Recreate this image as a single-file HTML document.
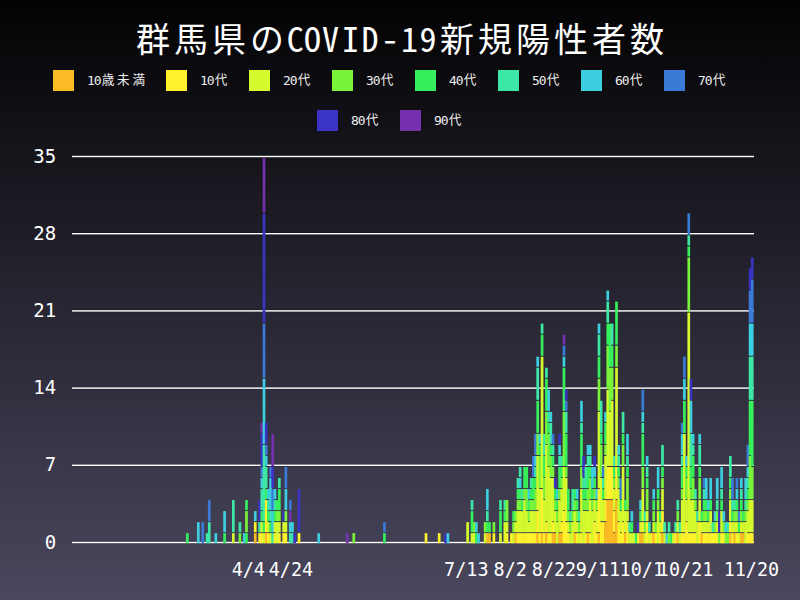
<!DOCTYPE html>
<html><head><meta charset="utf-8"><title>群馬県のCOVID-19新規陽性者数</title><style>
html,body{margin:0;padding:0;width:800px;height:600px;overflow:hidden;}
body{background:linear-gradient(to bottom,#030304 0%,#4a475e 100%);}
svg{display:block;}
.t{font-family:"Noto Sans Mono CJK JP","Noto Sans CJK JP","DejaVu Sans Mono",monospace;}
.m{font-family:"DejaVu Sans Mono","Liberation Mono",monospace;font-size:13px;}
.c{font-family:"Noto Sans CJK JP","WenQuanYi Zen Hei",sans-serif;font-size:12.6px;}
.n{font-family:"DejaVu Sans Mono","Liberation Mono",monospace;}
</style></head><body>
<svg width="800" height="600" viewBox="0 0 800 600">
<text class="t" x="153.0 191.0 229.0 267.0 295.2 312.5 330.5 350.5 370.0 390.0 409.5 428.0 457.0 495.0 533.0 571.0 609.0 647.0" y="51.5" font-size="34" fill="#ffffff" text-anchor="middle">群馬県のCOVID-19新規陽性者数</text>
<rect x="53" y="70" width="21" height="21" fill="#fbbb24"/><text y="85" fill="#eeeeee"><tspan x="87.00" y="85" class="m">1</tspan><tspan x="93.75" y="85" class="m">0</tspan><tspan x="101.80" y="84.2" class="c">歳</tspan><tspan x="117.10" y="84.2" class="c">未</tspan><tspan x="132.40" y="84.2" class="c">満</tspan></text>
<rect x="166" y="70" width="21" height="21" fill="#fff22c"/><text y="85" fill="#eeeeee"><tspan x="200.00" y="85" class="m">1</tspan><tspan x="206.75" y="85" class="m">0</tspan><tspan x="214.80" y="84.2" class="c">代</tspan></text>
<rect x="249" y="70" width="21" height="21" fill="#d5fa2d"/><text y="85" fill="#eeeeee"><tspan x="283.00" y="85" class="m">2</tspan><tspan x="289.75" y="85" class="m">0</tspan><tspan x="297.80" y="84.2" class="c">代</tspan></text>
<rect x="332" y="70" width="21" height="21" fill="#78f53a"/><text y="85" fill="#eeeeee"><tspan x="366.00" y="85" class="m">3</tspan><tspan x="372.75" y="85" class="m">0</tspan><tspan x="380.80" y="84.2" class="c">代</tspan></text>
<rect x="415" y="70" width="21" height="21" fill="#36ef5c"/><text y="85" fill="#eeeeee"><tspan x="449.00" y="85" class="m">4</tspan><tspan x="455.75" y="85" class="m">0</tspan><tspan x="463.80" y="84.2" class="c">代</tspan></text>
<rect x="498" y="70" width="21" height="21" fill="#3de8a6"/><text y="85" fill="#eeeeee"><tspan x="532.00" y="85" class="m">5</tspan><tspan x="538.75" y="85" class="m">0</tspan><tspan x="546.80" y="84.2" class="c">代</tspan></text>
<rect x="581" y="70" width="21" height="21" fill="#3bcfdf"/><text y="85" fill="#eeeeee"><tspan x="615.00" y="85" class="m">6</tspan><tspan x="621.75" y="85" class="m">0</tspan><tspan x="629.80" y="84.2" class="c">代</tspan></text>
<rect x="664" y="70" width="21" height="21" fill="#3b7bd8"/><text y="85" fill="#eeeeee"><tspan x="698.00" y="85" class="m">7</tspan><tspan x="704.75" y="85" class="m">0</tspan><tspan x="712.80" y="84.2" class="c">代</tspan></text>
<rect x="317" y="110" width="21" height="21" fill="#3b33c5"/><text y="125" fill="#eeeeee"><tspan x="351.00" y="125" class="m">8</tspan><tspan x="357.75" y="125" class="m">0</tspan><tspan x="365.80" y="124.2" class="c">代</tspan></text>
<rect x="400" y="110" width="21" height="21" fill="#7530ae"/><text y="125" fill="#eeeeee"><tspan x="434.00" y="125" class="m">9</tspan><tspan x="440.75" y="125" class="m">0</tspan><tspan x="448.80" y="124.2" class="c">代</tspan></text>
<rect x="71" y="540.80" width="683" height="1" fill="#000" fill-opacity="0.18"/><rect x="71" y="543.20" width="683" height="1" fill="#000" fill-opacity="0.12"/><rect x="72" y="541.80" width="682" height="1.4" fill="#ffffff"/><text class="n" x="56.2" y="548.6" font-size="19" fill="#ffffff" text-anchor="end">0</text>
<rect x="71" y="463.60" width="683" height="1" fill="#000" fill-opacity="0.18"/><rect x="71" y="466.00" width="683" height="1" fill="#000" fill-opacity="0.12"/><rect x="72" y="464.60" width="682" height="1.4" fill="#ffffff"/><text class="n" x="56.2" y="471.4" font-size="19" fill="#ffffff" text-anchor="end">7</text>
<rect x="71" y="386.40" width="683" height="1" fill="#000" fill-opacity="0.18"/><rect x="71" y="388.80" width="683" height="1" fill="#000" fill-opacity="0.12"/><rect x="72" y="387.40" width="682" height="1.4" fill="#ffffff"/><text class="n" x="56.2" y="394.2" font-size="19" fill="#ffffff" text-anchor="end">14</text>
<rect x="71" y="309.20" width="683" height="1" fill="#000" fill-opacity="0.18"/><rect x="71" y="311.60" width="683" height="1" fill="#000" fill-opacity="0.12"/><rect x="72" y="310.20" width="682" height="1.4" fill="#ffffff"/><text class="n" x="56.2" y="317.0" font-size="19" fill="#ffffff" text-anchor="end">21</text>
<rect x="71" y="232.00" width="683" height="1" fill="#000" fill-opacity="0.18"/><rect x="71" y="234.40" width="683" height="1" fill="#000" fill-opacity="0.12"/><rect x="72" y="233.00" width="682" height="1.4" fill="#ffffff"/><text class="n" x="56.2" y="239.8" font-size="19" fill="#ffffff" text-anchor="end">28</text>
<rect x="71" y="154.80" width="683" height="1" fill="#000" fill-opacity="0.18"/><rect x="71" y="157.20" width="683" height="1" fill="#000" fill-opacity="0.12"/><rect x="72" y="155.80" width="682" height="1.4" fill="#ffffff"/><text class="n" x="56.2" y="162.6" font-size="19" fill="#ffffff" text-anchor="end">35</text>
<g fill-opacity="1.0"><rect x="186.02" y="533.17" width="2.69" height="10.03" fill="#36ef5c"/><rect x="196.97" y="522.14" width="2.69" height="21.06" fill="#3bcfdf"/><rect x="201.35" y="522.14" width="2.69" height="21.06" fill="#3b7bd8"/><rect x="205.73" y="533.17" width="2.69" height="10.03" fill="#3de8a6"/><rect x="207.92" y="522.14" width="2.69" height="21.06" fill="#3de8a6"/><rect x="207.92" y="500.09" width="2.69" height="21.06" fill="#3b7bd8"/><rect x="214.49" y="533.17" width="2.69" height="10.03" fill="#3bcfdf"/><rect x="223.25" y="533.17" width="2.69" height="10.03" fill="#36ef5c"/><rect x="223.25" y="511.11" width="2.69" height="21.06" fill="#3bcfdf"/><rect x="232.00" y="533.17" width="2.69" height="10.03" fill="#d5fa2d"/><rect x="232.00" y="500.09" width="2.69" height="32.09" fill="#3de8a6"/><rect x="238.57" y="533.17" width="2.69" height="10.03" fill="#78f53a"/><rect x="238.57" y="522.14" width="2.69" height="10.03" fill="#3de8a6"/><rect x="242.95" y="533.17" width="2.69" height="10.03" fill="#3bcfdf"/><rect x="245.14" y="533.17" width="2.69" height="10.03" fill="#36ef5c"/><rect x="245.14" y="511.11" width="2.69" height="21.06" fill="#78f53a"/><rect x="245.14" y="500.09" width="2.69" height="10.03" fill="#36ef5c"/><rect x="253.90" y="533.17" width="2.69" height="10.03" fill="#fbbb24"/><rect x="253.90" y="522.14" width="2.69" height="10.03" fill="#fff22c"/><rect x="253.90" y="511.11" width="2.69" height="10.03" fill="#3bcfdf"/><rect x="258.28" y="533.17" width="2.69" height="10.03" fill="#fff22c"/><rect x="258.28" y="522.14" width="2.69" height="10.03" fill="#3de8a6"/><rect x="258.28" y="500.09" width="2.69" height="21.06" fill="#3b33c5"/><rect x="260.47" y="533.17" width="2.69" height="10.03" fill="#fff22c"/><rect x="260.47" y="522.14" width="2.69" height="10.03" fill="#d5fa2d"/><rect x="260.47" y="511.11" width="2.69" height="10.03" fill="#36ef5c"/><rect x="260.47" y="489.06" width="2.69" height="21.06" fill="#3de8a6"/><rect x="260.47" y="478.03" width="2.69" height="10.03" fill="#3bcfdf"/><rect x="260.47" y="467.00" width="2.69" height="10.03" fill="#3b7bd8"/><rect x="260.47" y="433.91" width="2.69" height="32.09" fill="#3b33c5"/><rect x="260.47" y="422.89" width="2.69" height="10.03" fill="#7530ae"/><rect x="262.66" y="533.17" width="2.69" height="10.03" fill="#d5fa2d"/><rect x="262.66" y="522.14" width="2.69" height="10.03" fill="#36ef5c"/><rect x="262.66" y="444.94" width="2.69" height="76.20" fill="#3de8a6"/><rect x="262.66" y="378.77" width="2.69" height="65.17" fill="#3bcfdf"/><rect x="262.66" y="323.63" width="2.69" height="54.14" fill="#3b7bd8"/><rect x="262.66" y="213.34" width="2.69" height="109.29" fill="#3b33c5"/><rect x="262.66" y="158.20" width="2.69" height="54.14" fill="#7530ae"/><rect x="264.85" y="533.17" width="2.69" height="10.03" fill="#fbbb24"/><rect x="264.85" y="500.09" width="2.69" height="32.09" fill="#fff22c"/><rect x="264.85" y="489.06" width="2.69" height="10.03" fill="#36ef5c"/><rect x="264.85" y="467.00" width="2.69" height="21.06" fill="#3de8a6"/><rect x="264.85" y="455.97" width="2.69" height="10.03" fill="#3bcfdf"/><rect x="264.85" y="444.94" width="2.69" height="10.03" fill="#3b7bd8"/><rect x="264.85" y="422.89" width="2.69" height="21.06" fill="#3b33c5"/><rect x="267.04" y="533.17" width="2.69" height="10.03" fill="#fff22c"/><rect x="267.04" y="522.14" width="2.69" height="10.03" fill="#d5fa2d"/><rect x="267.04" y="511.11" width="2.69" height="10.03" fill="#36ef5c"/><rect x="267.04" y="500.09" width="2.69" height="10.03" fill="#3de8a6"/><rect x="267.04" y="489.06" width="2.69" height="10.03" fill="#3bcfdf"/><rect x="269.22" y="533.17" width="2.69" height="10.03" fill="#d5fa2d"/><rect x="269.22" y="522.14" width="2.69" height="10.03" fill="#36ef5c"/><rect x="269.22" y="511.11" width="2.69" height="10.03" fill="#3de8a6"/><rect x="269.22" y="478.03" width="2.69" height="32.09" fill="#3bcfdf"/><rect x="269.22" y="467.00" width="2.69" height="10.03" fill="#3b7bd8"/><rect x="271.41" y="533.17" width="2.69" height="10.03" fill="#3de8a6"/><rect x="271.41" y="511.11" width="2.69" height="21.06" fill="#3bcfdf"/><rect x="271.41" y="489.06" width="2.69" height="21.06" fill="#3b7bd8"/><rect x="271.41" y="467.00" width="2.69" height="21.06" fill="#3b33c5"/><rect x="271.41" y="433.91" width="2.69" height="32.09" fill="#7530ae"/><rect x="273.60" y="533.17" width="2.69" height="10.03" fill="#fff22c"/><rect x="273.60" y="522.14" width="2.69" height="10.03" fill="#d5fa2d"/><rect x="273.60" y="511.11" width="2.69" height="10.03" fill="#36ef5c"/><rect x="273.60" y="500.09" width="2.69" height="10.03" fill="#3de8a6"/><rect x="273.60" y="489.06" width="2.69" height="10.03" fill="#3bcfdf"/><rect x="275.79" y="522.14" width="2.69" height="21.06" fill="#d5fa2d"/><rect x="275.79" y="511.11" width="2.69" height="10.03" fill="#78f53a"/><rect x="275.79" y="500.09" width="2.69" height="10.03" fill="#36ef5c"/><rect x="277.98" y="533.17" width="2.69" height="10.03" fill="#fff22c"/><rect x="277.98" y="522.14" width="2.69" height="10.03" fill="#d5fa2d"/><rect x="277.98" y="511.11" width="2.69" height="10.03" fill="#78f53a"/><rect x="277.98" y="489.06" width="2.69" height="21.06" fill="#36ef5c"/><rect x="277.98" y="478.03" width="2.69" height="10.03" fill="#3de8a6"/><rect x="282.36" y="533.17" width="2.69" height="10.03" fill="#fff22c"/><rect x="282.36" y="522.14" width="2.69" height="10.03" fill="#d5fa2d"/><rect x="282.36" y="511.11" width="2.69" height="10.03" fill="#3b33c5"/><rect x="284.55" y="533.17" width="2.69" height="10.03" fill="#fff22c"/><rect x="284.55" y="522.14" width="2.69" height="10.03" fill="#d5fa2d"/><rect x="284.55" y="511.11" width="2.69" height="10.03" fill="#78f53a"/><rect x="284.55" y="489.06" width="2.69" height="21.06" fill="#3bcfdf"/><rect x="284.55" y="467.00" width="2.69" height="21.06" fill="#3b7bd8"/><rect x="288.93" y="533.17" width="2.69" height="10.03" fill="#3de8a6"/><rect x="288.93" y="522.14" width="2.69" height="10.03" fill="#3bcfdf"/><rect x="288.93" y="511.11" width="2.69" height="10.03" fill="#7530ae"/><rect x="288.93" y="500.09" width="2.69" height="10.03" fill="#3b7bd8"/><rect x="291.12" y="533.17" width="2.69" height="10.03" fill="#3de8a6"/><rect x="291.12" y="522.14" width="2.69" height="10.03" fill="#3bcfdf"/><rect x="293.31" y="533.17" width="2.69" height="10.03" fill="#3b33c5"/><rect x="297.69" y="533.17" width="2.69" height="10.03" fill="#fff22c"/><rect x="297.69" y="489.06" width="2.69" height="43.11" fill="#3b33c5"/><rect x="317.39" y="533.17" width="2.69" height="10.03" fill="#3bcfdf"/><rect x="345.86" y="533.17" width="2.69" height="10.03" fill="#7530ae"/><rect x="352.43" y="533.17" width="2.69" height="10.03" fill="#78f53a"/><rect x="383.08" y="533.17" width="2.69" height="10.03" fill="#36ef5c"/><rect x="383.08" y="522.14" width="2.69" height="10.03" fill="#3b7bd8"/><rect x="424.68" y="533.17" width="2.69" height="10.03" fill="#fff22c"/><rect x="437.82" y="533.17" width="2.69" height="10.03" fill="#fff22c"/><rect x="444.38" y="533.17" width="2.69" height="10.03" fill="#3b33c5"/><rect x="446.57" y="533.17" width="2.69" height="10.03" fill="#3bcfdf"/><rect x="466.28" y="522.14" width="2.69" height="21.06" fill="#d5fa2d"/><rect x="470.66" y="533.17" width="2.69" height="10.03" fill="#d5fa2d"/><rect x="470.66" y="511.11" width="2.69" height="21.06" fill="#36ef5c"/><rect x="470.66" y="500.09" width="2.69" height="10.03" fill="#3de8a6"/><rect x="472.85" y="533.17" width="2.69" height="10.03" fill="#d5fa2d"/><rect x="472.85" y="522.14" width="2.69" height="10.03" fill="#78f53a"/><rect x="475.04" y="533.17" width="2.69" height="10.03" fill="#36ef5c"/><rect x="475.04" y="522.14" width="2.69" height="10.03" fill="#3bcfdf"/><rect x="477.23" y="533.17" width="2.69" height="10.03" fill="#3bcfdf"/><rect x="483.80" y="533.17" width="2.69" height="10.03" fill="#d5fa2d"/><rect x="483.80" y="522.14" width="2.69" height="10.03" fill="#78f53a"/><rect x="485.99" y="533.17" width="2.69" height="10.03" fill="#fbbb24"/><rect x="485.99" y="522.14" width="2.69" height="10.03" fill="#36ef5c"/><rect x="485.99" y="511.11" width="2.69" height="10.03" fill="#3de8a6"/><rect x="485.99" y="489.06" width="2.69" height="21.06" fill="#3bcfdf"/><rect x="488.17" y="533.17" width="2.69" height="10.03" fill="#fbbb24"/><rect x="488.17" y="522.14" width="2.69" height="10.03" fill="#36ef5c"/><rect x="492.55" y="533.17" width="2.69" height="10.03" fill="#fff22c"/><rect x="492.55" y="522.14" width="2.69" height="10.03" fill="#78f53a"/><rect x="499.12" y="533.17" width="2.69" height="10.03" fill="#d5fa2d"/><rect x="499.12" y="511.11" width="2.69" height="21.06" fill="#36ef5c"/><rect x="499.12" y="500.09" width="2.69" height="10.03" fill="#3de8a6"/><rect x="503.50" y="522.14" width="2.69" height="21.06" fill="#d5fa2d"/><rect x="503.50" y="511.11" width="2.69" height="10.03" fill="#36ef5c"/><rect x="503.50" y="500.09" width="2.69" height="10.03" fill="#3de8a6"/><rect x="505.69" y="533.17" width="2.69" height="10.03" fill="#fff22c"/><rect x="505.69" y="522.14" width="2.69" height="10.03" fill="#d5fa2d"/><rect x="505.69" y="500.09" width="2.69" height="21.06" fill="#78f53a"/><rect x="510.07" y="533.17" width="2.69" height="10.03" fill="#fff22c"/><rect x="512.26" y="533.17" width="2.69" height="10.03" fill="#d5fa2d"/><rect x="512.26" y="522.14" width="2.69" height="10.03" fill="#78f53a"/><rect x="512.26" y="511.11" width="2.69" height="10.03" fill="#36ef5c"/><rect x="514.45" y="533.17" width="2.69" height="10.03" fill="#fbbb24"/><rect x="514.45" y="522.14" width="2.69" height="10.03" fill="#d5fa2d"/><rect x="514.45" y="511.11" width="2.69" height="10.03" fill="#78f53a"/><rect x="516.64" y="533.17" width="2.69" height="10.03" fill="#fff22c"/><rect x="516.64" y="511.11" width="2.69" height="21.06" fill="#d5fa2d"/><rect x="516.64" y="500.09" width="2.69" height="10.03" fill="#78f53a"/><rect x="516.64" y="489.06" width="2.69" height="10.03" fill="#36ef5c"/><rect x="516.64" y="478.03" width="2.69" height="10.03" fill="#3de8a6"/><rect x="518.83" y="533.17" width="2.69" height="10.03" fill="#fff22c"/><rect x="518.83" y="511.11" width="2.69" height="21.06" fill="#d5fa2d"/><rect x="518.83" y="500.09" width="2.69" height="10.03" fill="#78f53a"/><rect x="518.83" y="489.06" width="2.69" height="10.03" fill="#36ef5c"/><rect x="518.83" y="478.03" width="2.69" height="10.03" fill="#3bcfdf"/><rect x="518.83" y="467.00" width="2.69" height="10.03" fill="#3de8a6"/><rect x="521.02" y="533.17" width="2.69" height="10.03" fill="#fff22c"/><rect x="521.02" y="511.11" width="2.69" height="21.06" fill="#d5fa2d"/><rect x="521.02" y="500.09" width="2.69" height="10.03" fill="#36ef5c"/><rect x="521.02" y="489.06" width="2.69" height="10.03" fill="#3de8a6"/><rect x="523.21" y="533.17" width="2.69" height="10.03" fill="#fff22c"/><rect x="523.21" y="500.09" width="2.69" height="32.09" fill="#d5fa2d"/><rect x="523.21" y="489.06" width="2.69" height="10.03" fill="#78f53a"/><rect x="523.21" y="467.00" width="2.69" height="21.06" fill="#36ef5c"/><rect x="525.40" y="533.17" width="2.69" height="10.03" fill="#fff22c"/><rect x="525.40" y="511.11" width="2.69" height="21.06" fill="#d5fa2d"/><rect x="525.40" y="489.06" width="2.69" height="21.06" fill="#78f53a"/><rect x="525.40" y="467.00" width="2.69" height="21.06" fill="#36ef5c"/><rect x="527.59" y="533.17" width="2.69" height="10.03" fill="#fff22c"/><rect x="527.59" y="522.14" width="2.69" height="10.03" fill="#d5fa2d"/><rect x="527.59" y="511.11" width="2.69" height="10.03" fill="#78f53a"/><rect x="527.59" y="500.09" width="2.69" height="10.03" fill="#36ef5c"/><rect x="527.59" y="489.06" width="2.69" height="10.03" fill="#3bcfdf"/><rect x="529.78" y="533.17" width="2.69" height="10.03" fill="#fff22c"/><rect x="529.78" y="511.11" width="2.69" height="21.06" fill="#d5fa2d"/><rect x="529.78" y="500.09" width="2.69" height="10.03" fill="#78f53a"/><rect x="529.78" y="489.06" width="2.69" height="10.03" fill="#36ef5c"/><rect x="529.78" y="478.03" width="2.69" height="10.03" fill="#3de8a6"/><rect x="531.96" y="533.17" width="2.69" height="10.03" fill="#fff22c"/><rect x="531.96" y="511.11" width="2.69" height="21.06" fill="#d5fa2d"/><rect x="531.96" y="500.09" width="2.69" height="10.03" fill="#78f53a"/><rect x="531.96" y="478.03" width="2.69" height="21.06" fill="#36ef5c"/><rect x="531.96" y="455.97" width="2.69" height="21.06" fill="#3b7bd8"/><rect x="534.15" y="533.17" width="2.69" height="10.03" fill="#fff22c"/><rect x="534.15" y="511.11" width="2.69" height="21.06" fill="#d5fa2d"/><rect x="534.15" y="489.06" width="2.69" height="21.06" fill="#78f53a"/><rect x="534.15" y="478.03" width="2.69" height="10.03" fill="#36ef5c"/><rect x="534.15" y="467.00" width="2.69" height="10.03" fill="#3de8a6"/><rect x="534.15" y="455.97" width="2.69" height="10.03" fill="#3bcfdf"/><rect x="534.15" y="433.91" width="2.69" height="21.06" fill="#3b7bd8"/><rect x="536.34" y="533.17" width="2.69" height="10.03" fill="#fbbb24"/><rect x="536.34" y="511.11" width="2.69" height="21.06" fill="#fff22c"/><rect x="536.34" y="455.97" width="2.69" height="54.14" fill="#d5fa2d"/><rect x="536.34" y="433.91" width="2.69" height="21.06" fill="#78f53a"/><rect x="536.34" y="400.83" width="2.69" height="32.09" fill="#36ef5c"/><rect x="536.34" y="367.74" width="2.69" height="32.09" fill="#3de8a6"/><rect x="536.34" y="356.71" width="2.69" height="10.03" fill="#3bcfdf"/><rect x="538.53" y="533.17" width="2.69" height="10.03" fill="#fff22c"/><rect x="538.53" y="489.06" width="2.69" height="43.11" fill="#d5fa2d"/><rect x="538.53" y="455.97" width="2.69" height="32.09" fill="#78f53a"/><rect x="538.53" y="444.94" width="2.69" height="10.03" fill="#36ef5c"/><rect x="538.53" y="433.91" width="2.69" height="10.03" fill="#3bcfdf"/><rect x="540.72" y="533.17" width="2.69" height="10.03" fill="#fbbb24"/><rect x="540.72" y="489.06" width="2.69" height="43.11" fill="#fff22c"/><rect x="540.72" y="356.71" width="2.69" height="131.34" fill="#d5fa2d"/><rect x="540.72" y="334.66" width="2.69" height="21.06" fill="#36ef5c"/><rect x="540.72" y="323.63" width="2.69" height="10.03" fill="#3de8a6"/><rect x="542.91" y="533.17" width="2.69" height="10.03" fill="#fff22c"/><rect x="542.91" y="500.09" width="2.69" height="32.09" fill="#d5fa2d"/><rect x="542.91" y="478.03" width="2.69" height="21.06" fill="#78f53a"/><rect x="542.91" y="455.97" width="2.69" height="21.06" fill="#36ef5c"/><rect x="542.91" y="433.91" width="2.69" height="21.06" fill="#3de8a6"/><rect x="545.10" y="533.17" width="2.69" height="10.03" fill="#fbbb24"/><rect x="545.10" y="522.14" width="2.69" height="10.03" fill="#fff22c"/><rect x="545.10" y="444.94" width="2.69" height="76.20" fill="#d5fa2d"/><rect x="545.10" y="411.86" width="2.69" height="32.09" fill="#78f53a"/><rect x="545.10" y="378.77" width="2.69" height="32.09" fill="#36ef5c"/><rect x="545.10" y="367.74" width="2.69" height="10.03" fill="#3de8a6"/><rect x="547.29" y="533.17" width="2.69" height="10.03" fill="#fff22c"/><rect x="547.29" y="467.00" width="2.69" height="65.17" fill="#d5fa2d"/><rect x="547.29" y="433.91" width="2.69" height="32.09" fill="#78f53a"/><rect x="547.29" y="422.89" width="2.69" height="10.03" fill="#36ef5c"/><rect x="547.29" y="411.86" width="2.69" height="10.03" fill="#3de8a6"/><rect x="547.29" y="389.80" width="2.69" height="21.06" fill="#3bcfdf"/><rect x="549.48" y="533.17" width="2.69" height="10.03" fill="#fff22c"/><rect x="549.48" y="478.03" width="2.69" height="54.14" fill="#d5fa2d"/><rect x="549.48" y="455.97" width="2.69" height="21.06" fill="#78f53a"/><rect x="549.48" y="444.94" width="2.69" height="10.03" fill="#36ef5c"/><rect x="549.48" y="422.89" width="2.69" height="21.06" fill="#3de8a6"/><rect x="549.48" y="411.86" width="2.69" height="10.03" fill="#3bcfdf"/><rect x="551.67" y="533.17" width="2.69" height="10.03" fill="#fbbb24"/><rect x="551.67" y="522.14" width="2.69" height="10.03" fill="#fff22c"/><rect x="551.67" y="478.03" width="2.69" height="43.11" fill="#d5fa2d"/><rect x="551.67" y="467.00" width="2.69" height="10.03" fill="#78f53a"/><rect x="551.67" y="455.97" width="2.69" height="10.03" fill="#36ef5c"/><rect x="551.67" y="444.94" width="2.69" height="10.03" fill="#3de8a6"/><rect x="551.67" y="433.91" width="2.69" height="10.03" fill="#3b7bd8"/><rect x="553.86" y="533.17" width="2.69" height="10.03" fill="#fbbb24"/><rect x="553.86" y="511.11" width="2.69" height="21.06" fill="#d5fa2d"/><rect x="553.86" y="500.09" width="2.69" height="10.03" fill="#78f53a"/><rect x="553.86" y="489.06" width="2.69" height="10.03" fill="#36ef5c"/><rect x="553.86" y="478.03" width="2.69" height="10.03" fill="#3b33c5"/><rect x="556.05" y="522.14" width="2.69" height="21.06" fill="#d5fa2d"/><rect x="556.05" y="511.11" width="2.69" height="10.03" fill="#78f53a"/><rect x="556.05" y="500.09" width="2.69" height="10.03" fill="#36ef5c"/><rect x="556.05" y="489.06" width="2.69" height="10.03" fill="#3bcfdf"/><rect x="558.24" y="533.17" width="2.69" height="10.03" fill="#fbbb24"/><rect x="558.24" y="500.09" width="2.69" height="32.09" fill="#d5fa2d"/><rect x="558.24" y="489.06" width="2.69" height="10.03" fill="#78f53a"/><rect x="558.24" y="467.00" width="2.69" height="21.06" fill="#36ef5c"/><rect x="558.24" y="455.97" width="2.69" height="10.03" fill="#3de8a6"/><rect x="558.24" y="444.94" width="2.69" height="10.03" fill="#3bcfdf"/><rect x="558.24" y="433.91" width="2.69" height="10.03" fill="#3b33c5"/><rect x="560.43" y="533.17" width="2.69" height="10.03" fill="#fbbb24"/><rect x="560.43" y="522.14" width="2.69" height="10.03" fill="#fff22c"/><rect x="560.43" y="489.06" width="2.69" height="32.09" fill="#d5fa2d"/><rect x="560.43" y="478.03" width="2.69" height="10.03" fill="#78f53a"/><rect x="560.43" y="467.00" width="2.69" height="10.03" fill="#36ef5c"/><rect x="560.43" y="455.97" width="2.69" height="10.03" fill="#3de8a6"/><rect x="562.62" y="511.11" width="2.69" height="32.09" fill="#fff22c"/><rect x="562.62" y="467.00" width="2.69" height="43.11" fill="#d5fa2d"/><rect x="562.62" y="411.86" width="2.69" height="54.14" fill="#78f53a"/><rect x="562.62" y="367.74" width="2.69" height="43.11" fill="#36ef5c"/><rect x="562.62" y="356.71" width="2.69" height="10.03" fill="#3bcfdf"/><rect x="562.62" y="345.69" width="2.69" height="10.03" fill="#3b7bd8"/><rect x="562.62" y="334.66" width="2.69" height="10.03" fill="#7530ae"/><rect x="564.81" y="522.14" width="2.69" height="21.06" fill="#fff22c"/><rect x="564.81" y="478.03" width="2.69" height="43.11" fill="#d5fa2d"/><rect x="564.81" y="467.00" width="2.69" height="10.03" fill="#78f53a"/><rect x="564.81" y="433.91" width="2.69" height="32.09" fill="#36ef5c"/><rect x="564.81" y="411.86" width="2.69" height="21.06" fill="#3de8a6"/><rect x="564.81" y="400.83" width="2.69" height="10.03" fill="#3b7bd8"/><rect x="564.81" y="389.80" width="2.69" height="10.03" fill="#3b33c5"/><rect x="567.00" y="533.17" width="2.69" height="10.03" fill="#fff22c"/><rect x="567.00" y="522.14" width="2.69" height="10.03" fill="#d5fa2d"/><rect x="567.00" y="511.11" width="2.69" height="10.03" fill="#78f53a"/><rect x="567.00" y="489.06" width="2.69" height="21.06" fill="#36ef5c"/><rect x="569.19" y="533.17" width="2.69" height="10.03" fill="#d5fa2d"/><rect x="569.19" y="522.14" width="2.69" height="10.03" fill="#78f53a"/><rect x="569.19" y="511.11" width="2.69" height="10.03" fill="#3de8a6"/><rect x="571.38" y="522.14" width="2.69" height="21.06" fill="#d5fa2d"/><rect x="571.38" y="511.11" width="2.69" height="10.03" fill="#78f53a"/><rect x="571.38" y="489.06" width="2.69" height="21.06" fill="#3de8a6"/><rect x="573.57" y="533.17" width="2.69" height="10.03" fill="#fbbb24"/><rect x="573.57" y="511.11" width="2.69" height="21.06" fill="#d5fa2d"/><rect x="573.57" y="500.09" width="2.69" height="10.03" fill="#78f53a"/><rect x="573.57" y="489.06" width="2.69" height="10.03" fill="#36ef5c"/><rect x="575.75" y="533.17" width="2.69" height="10.03" fill="#fff22c"/><rect x="575.75" y="522.14" width="2.69" height="10.03" fill="#d5fa2d"/><rect x="575.75" y="511.11" width="2.69" height="10.03" fill="#78f53a"/><rect x="575.75" y="500.09" width="2.69" height="10.03" fill="#36ef5c"/><rect x="575.75" y="489.06" width="2.69" height="10.03" fill="#3bcfdf"/><rect x="577.94" y="533.17" width="2.69" height="10.03" fill="#d5fa2d"/><rect x="577.94" y="522.14" width="2.69" height="10.03" fill="#78f53a"/><rect x="577.94" y="511.11" width="2.69" height="10.03" fill="#3de8a6"/><rect x="580.13" y="533.17" width="2.69" height="10.03" fill="#fff22c"/><rect x="580.13" y="489.06" width="2.69" height="43.11" fill="#d5fa2d"/><rect x="580.13" y="467.00" width="2.69" height="21.06" fill="#78f53a"/><rect x="580.13" y="433.91" width="2.69" height="32.09" fill="#36ef5c"/><rect x="580.13" y="422.89" width="2.69" height="10.03" fill="#3de8a6"/><rect x="580.13" y="400.83" width="2.69" height="21.06" fill="#3bcfdf"/><rect x="582.32" y="511.11" width="2.69" height="32.09" fill="#d5fa2d"/><rect x="582.32" y="500.09" width="2.69" height="10.03" fill="#78f53a"/><rect x="582.32" y="489.06" width="2.69" height="10.03" fill="#36ef5c"/><rect x="582.32" y="478.03" width="2.69" height="10.03" fill="#3de8a6"/><rect x="582.32" y="455.97" width="2.69" height="21.06" fill="#3b33c5"/><rect x="584.51" y="533.17" width="2.69" height="10.03" fill="#fff22c"/><rect x="584.51" y="511.11" width="2.69" height="21.06" fill="#d5fa2d"/><rect x="584.51" y="500.09" width="2.69" height="10.03" fill="#78f53a"/><rect x="584.51" y="489.06" width="2.69" height="10.03" fill="#36ef5c"/><rect x="584.51" y="467.00" width="2.69" height="21.06" fill="#3de8a6"/><rect x="586.70" y="533.17" width="2.69" height="10.03" fill="#fbbb24"/><rect x="586.70" y="511.11" width="2.69" height="21.06" fill="#d5fa2d"/><rect x="586.70" y="489.06" width="2.69" height="21.06" fill="#78f53a"/><rect x="586.70" y="467.00" width="2.69" height="21.06" fill="#36ef5c"/><rect x="586.70" y="455.97" width="2.69" height="10.03" fill="#3de8a6"/><rect x="586.70" y="444.94" width="2.69" height="10.03" fill="#3bcfdf"/><rect x="588.89" y="533.17" width="2.69" height="10.03" fill="#fff22c"/><rect x="588.89" y="500.09" width="2.69" height="32.09" fill="#d5fa2d"/><rect x="588.89" y="478.03" width="2.69" height="21.06" fill="#78f53a"/><rect x="588.89" y="467.00" width="2.69" height="10.03" fill="#36ef5c"/><rect x="588.89" y="455.97" width="2.69" height="10.03" fill="#3de8a6"/><rect x="588.89" y="444.94" width="2.69" height="10.03" fill="#3bcfdf"/><rect x="591.08" y="511.11" width="2.69" height="32.09" fill="#d5fa2d"/><rect x="591.08" y="500.09" width="2.69" height="10.03" fill="#78f53a"/><rect x="591.08" y="489.06" width="2.69" height="10.03" fill="#36ef5c"/><rect x="591.08" y="467.00" width="2.69" height="21.06" fill="#3bcfdf"/><rect x="593.27" y="522.14" width="2.69" height="21.06" fill="#fff22c"/><rect x="593.27" y="500.09" width="2.69" height="21.06" fill="#d5fa2d"/><rect x="593.27" y="489.06" width="2.69" height="10.03" fill="#78f53a"/><rect x="593.27" y="478.03" width="2.69" height="10.03" fill="#36ef5c"/><rect x="593.27" y="467.00" width="2.69" height="10.03" fill="#3bcfdf"/><rect x="593.27" y="455.97" width="2.69" height="10.03" fill="#3b33c5"/><rect x="595.46" y="533.17" width="2.69" height="10.03" fill="#fff22c"/><rect x="595.46" y="511.11" width="2.69" height="21.06" fill="#d5fa2d"/><rect x="595.46" y="500.09" width="2.69" height="10.03" fill="#78f53a"/><rect x="595.46" y="489.06" width="2.69" height="10.03" fill="#3bcfdf"/><rect x="597.65" y="533.17" width="2.69" height="10.03" fill="#fbbb24"/><rect x="597.65" y="489.06" width="2.69" height="43.11" fill="#fff22c"/><rect x="597.65" y="411.86" width="2.69" height="76.20" fill="#d5fa2d"/><rect x="597.65" y="378.77" width="2.69" height="32.09" fill="#78f53a"/><rect x="597.65" y="356.71" width="2.69" height="21.06" fill="#36ef5c"/><rect x="597.65" y="334.66" width="2.69" height="21.06" fill="#3de8a6"/><rect x="597.65" y="323.63" width="2.69" height="10.03" fill="#3bcfdf"/><rect x="599.84" y="522.14" width="2.69" height="21.06" fill="#fff22c"/><rect x="599.84" y="478.03" width="2.69" height="43.11" fill="#d5fa2d"/><rect x="599.84" y="444.94" width="2.69" height="32.09" fill="#78f53a"/><rect x="599.84" y="433.91" width="2.69" height="10.03" fill="#36ef5c"/><rect x="599.84" y="400.83" width="2.69" height="32.09" fill="#3de8a6"/><rect x="602.03" y="522.14" width="2.69" height="21.06" fill="#fff22c"/><rect x="602.03" y="500.09" width="2.69" height="21.06" fill="#d5fa2d"/><rect x="602.03" y="489.06" width="2.69" height="10.03" fill="#36ef5c"/><rect x="602.03" y="478.03" width="2.69" height="10.03" fill="#3de8a6"/><rect x="602.03" y="467.00" width="2.69" height="10.03" fill="#3b7bd8"/><rect x="604.22" y="522.14" width="2.69" height="21.06" fill="#fbbb24"/><rect x="604.22" y="500.09" width="2.69" height="21.06" fill="#fff22c"/><rect x="604.22" y="455.97" width="2.69" height="43.11" fill="#d5fa2d"/><rect x="604.22" y="444.94" width="2.69" height="10.03" fill="#78f53a"/><rect x="604.22" y="422.89" width="2.69" height="21.06" fill="#36ef5c"/><rect x="604.22" y="411.86" width="2.69" height="10.03" fill="#3bcfdf"/><rect x="606.41" y="500.09" width="2.69" height="43.11" fill="#fbbb24"/><rect x="606.41" y="467.00" width="2.69" height="32.09" fill="#fff22c"/><rect x="606.41" y="389.80" width="2.69" height="76.20" fill="#d5fa2d"/><rect x="606.41" y="345.69" width="2.69" height="43.11" fill="#78f53a"/><rect x="606.41" y="323.63" width="2.69" height="21.06" fill="#36ef5c"/><rect x="606.41" y="301.57" width="2.69" height="21.06" fill="#3de8a6"/><rect x="606.41" y="290.54" width="2.69" height="10.03" fill="#3bcfdf"/><rect x="608.60" y="500.09" width="2.69" height="43.11" fill="#fbbb24"/><rect x="608.60" y="467.00" width="2.69" height="32.09" fill="#fff22c"/><rect x="608.60" y="411.86" width="2.69" height="54.14" fill="#d5fa2d"/><rect x="608.60" y="367.74" width="2.69" height="43.11" fill="#78f53a"/><rect x="608.60" y="323.63" width="2.69" height="43.11" fill="#36ef5c"/><rect x="610.79" y="500.09" width="2.69" height="43.11" fill="#fbbb24"/><rect x="610.79" y="467.00" width="2.69" height="32.09" fill="#fff22c"/><rect x="610.79" y="400.83" width="2.69" height="65.17" fill="#d5fa2d"/><rect x="610.79" y="367.74" width="2.69" height="32.09" fill="#78f53a"/><rect x="610.79" y="345.69" width="2.69" height="21.06" fill="#36ef5c"/><rect x="610.79" y="323.63" width="2.69" height="21.06" fill="#3de8a6"/><rect x="612.98" y="533.17" width="2.69" height="10.03" fill="#fbbb24"/><rect x="612.98" y="511.11" width="2.69" height="21.06" fill="#fff22c"/><rect x="612.98" y="489.06" width="2.69" height="21.06" fill="#d5fa2d"/><rect x="612.98" y="478.03" width="2.69" height="10.03" fill="#78f53a"/><rect x="612.98" y="467.00" width="2.69" height="10.03" fill="#36ef5c"/><rect x="612.98" y="455.97" width="2.69" height="10.03" fill="#3de8a6"/><rect x="615.17" y="500.09" width="2.69" height="43.11" fill="#fbbb24"/><rect x="615.17" y="467.00" width="2.69" height="32.09" fill="#fff22c"/><rect x="615.17" y="367.74" width="2.69" height="98.26" fill="#d5fa2d"/><rect x="615.17" y="345.69" width="2.69" height="21.06" fill="#78f53a"/><rect x="615.17" y="301.57" width="2.69" height="43.11" fill="#36ef5c"/><rect x="617.36" y="522.14" width="2.69" height="21.06" fill="#fff22c"/><rect x="617.36" y="489.06" width="2.69" height="32.09" fill="#d5fa2d"/><rect x="617.36" y="478.03" width="2.69" height="10.03" fill="#78f53a"/><rect x="617.36" y="467.00" width="2.69" height="10.03" fill="#36ef5c"/><rect x="617.36" y="455.97" width="2.69" height="10.03" fill="#3de8a6"/><rect x="617.36" y="444.94" width="2.69" height="10.03" fill="#3bcfdf"/><rect x="619.54" y="533.17" width="2.69" height="10.03" fill="#fff22c"/><rect x="619.54" y="511.11" width="2.69" height="21.06" fill="#d5fa2d"/><rect x="619.54" y="500.09" width="2.69" height="10.03" fill="#36ef5c"/><rect x="619.54" y="478.03" width="2.69" height="21.06" fill="#3b7bd8"/><rect x="621.73" y="522.14" width="2.69" height="21.06" fill="#fff22c"/><rect x="621.73" y="467.00" width="2.69" height="54.14" fill="#d5fa2d"/><rect x="621.73" y="444.94" width="2.69" height="21.06" fill="#78f53a"/><rect x="621.73" y="433.91" width="2.69" height="10.03" fill="#36ef5c"/><rect x="621.73" y="411.86" width="2.69" height="21.06" fill="#3de8a6"/><rect x="623.92" y="533.17" width="2.69" height="10.03" fill="#fbbb24"/><rect x="623.92" y="511.11" width="2.69" height="21.06" fill="#d5fa2d"/><rect x="623.92" y="500.09" width="2.69" height="10.03" fill="#36ef5c"/><rect x="626.11" y="522.14" width="2.69" height="21.06" fill="#fff22c"/><rect x="626.11" y="511.11" width="2.69" height="10.03" fill="#d5fa2d"/><rect x="626.11" y="478.03" width="2.69" height="32.09" fill="#78f53a"/><rect x="626.11" y="467.00" width="2.69" height="10.03" fill="#36ef5c"/><rect x="626.11" y="455.97" width="2.69" height="10.03" fill="#3de8a6"/><rect x="626.11" y="433.91" width="2.69" height="21.06" fill="#3bcfdf"/><rect x="628.30" y="533.17" width="2.69" height="10.03" fill="#d5fa2d"/><rect x="628.30" y="522.14" width="2.69" height="10.03" fill="#3de8a6"/><rect x="630.49" y="533.17" width="2.69" height="10.03" fill="#d5fa2d"/><rect x="630.49" y="522.14" width="2.69" height="10.03" fill="#36ef5c"/><rect x="630.49" y="511.11" width="2.69" height="10.03" fill="#3bcfdf"/><rect x="632.68" y="533.17" width="2.69" height="10.03" fill="#d5fa2d"/><rect x="634.87" y="533.17" width="2.69" height="10.03" fill="#36ef5c"/><rect x="637.06" y="533.17" width="2.69" height="10.03" fill="#fff22c"/><rect x="637.06" y="522.14" width="2.69" height="10.03" fill="#3b33c5"/><rect x="639.25" y="533.17" width="2.69" height="10.03" fill="#fbbb24"/><rect x="639.25" y="522.14" width="2.69" height="10.03" fill="#d5fa2d"/><rect x="639.25" y="511.11" width="2.69" height="10.03" fill="#36ef5c"/><rect x="639.25" y="500.09" width="2.69" height="10.03" fill="#3bcfdf"/><rect x="641.44" y="533.17" width="2.69" height="10.03" fill="#fbbb24"/><rect x="641.44" y="522.14" width="2.69" height="10.03" fill="#fff22c"/><rect x="641.44" y="489.06" width="2.69" height="32.09" fill="#d5fa2d"/><rect x="641.44" y="467.00" width="2.69" height="21.06" fill="#78f53a"/><rect x="641.44" y="433.91" width="2.69" height="32.09" fill="#36ef5c"/><rect x="641.44" y="422.89" width="2.69" height="10.03" fill="#3de8a6"/><rect x="641.44" y="411.86" width="2.69" height="10.03" fill="#3bcfdf"/><rect x="641.44" y="389.80" width="2.69" height="21.06" fill="#3b7bd8"/><rect x="643.63" y="533.17" width="2.69" height="10.03" fill="#d5fa2d"/><rect x="643.63" y="522.14" width="2.69" height="10.03" fill="#78f53a"/><rect x="643.63" y="511.11" width="2.69" height="10.03" fill="#3de8a6"/><rect x="645.82" y="522.14" width="2.69" height="21.06" fill="#fff22c"/><rect x="645.82" y="511.11" width="2.69" height="10.03" fill="#d5fa2d"/><rect x="645.82" y="489.06" width="2.69" height="21.06" fill="#78f53a"/><rect x="645.82" y="478.03" width="2.69" height="10.03" fill="#36ef5c"/><rect x="645.82" y="467.00" width="2.69" height="10.03" fill="#3de8a6"/><rect x="645.82" y="455.97" width="2.69" height="10.03" fill="#3bcfdf"/><rect x="648.01" y="533.17" width="2.69" height="10.03" fill="#d5fa2d"/><rect x="648.01" y="522.14" width="2.69" height="10.03" fill="#3de8a6"/><rect x="650.20" y="533.17" width="2.69" height="10.03" fill="#fff22c"/><rect x="652.39" y="533.17" width="2.69" height="10.03" fill="#fbbb24"/><rect x="652.39" y="522.14" width="2.69" height="10.03" fill="#d5fa2d"/><rect x="652.39" y="511.11" width="2.69" height="10.03" fill="#78f53a"/><rect x="652.39" y="500.09" width="2.69" height="10.03" fill="#36ef5c"/><rect x="652.39" y="489.06" width="2.69" height="10.03" fill="#3bcfdf"/><rect x="654.58" y="533.17" width="2.69" height="10.03" fill="#fff22c"/><rect x="654.58" y="522.14" width="2.69" height="10.03" fill="#78f53a"/><rect x="656.77" y="511.11" width="2.69" height="32.09" fill="#d5fa2d"/><rect x="656.77" y="500.09" width="2.69" height="10.03" fill="#78f53a"/><rect x="656.77" y="489.06" width="2.69" height="10.03" fill="#36ef5c"/><rect x="656.77" y="467.00" width="2.69" height="21.06" fill="#3bcfdf"/><rect x="658.96" y="533.17" width="2.69" height="10.03" fill="#fff22c"/><rect x="658.96" y="522.14" width="2.69" height="10.03" fill="#d5fa2d"/><rect x="658.96" y="511.11" width="2.69" height="10.03" fill="#36ef5c"/><rect x="661.15" y="533.17" width="2.69" height="10.03" fill="#fbbb24"/><rect x="661.15" y="511.11" width="2.69" height="21.06" fill="#fff22c"/><rect x="661.15" y="489.06" width="2.69" height="21.06" fill="#d5fa2d"/><rect x="661.15" y="478.03" width="2.69" height="10.03" fill="#78f53a"/><rect x="661.15" y="467.00" width="2.69" height="10.03" fill="#36ef5c"/><rect x="661.15" y="444.94" width="2.69" height="21.06" fill="#3de8a6"/><rect x="663.33" y="533.17" width="2.69" height="10.03" fill="#d5fa2d"/><rect x="663.33" y="522.14" width="2.69" height="10.03" fill="#3de8a6"/><rect x="665.52" y="533.17" width="2.69" height="10.03" fill="#3bcfdf"/><rect x="667.71" y="533.17" width="2.69" height="10.03" fill="#78f53a"/><rect x="667.71" y="522.14" width="2.69" height="10.03" fill="#3de8a6"/><rect x="669.90" y="533.17" width="2.69" height="10.03" fill="#36ef5c"/><rect x="672.09" y="533.17" width="2.69" height="10.03" fill="#d5fa2d"/><rect x="674.28" y="533.17" width="2.69" height="10.03" fill="#fff22c"/><rect x="674.28" y="522.14" width="2.69" height="10.03" fill="#3de8a6"/><rect x="676.47" y="533.17" width="2.69" height="10.03" fill="#fbbb24"/><rect x="676.47" y="522.14" width="2.69" height="10.03" fill="#d5fa2d"/><rect x="676.47" y="511.11" width="2.69" height="10.03" fill="#78f53a"/><rect x="676.47" y="500.09" width="2.69" height="10.03" fill="#3de8a6"/><rect x="678.66" y="533.17" width="2.69" height="10.03" fill="#d5fa2d"/><rect x="678.66" y="522.14" width="2.69" height="10.03" fill="#3de8a6"/><rect x="680.85" y="533.17" width="2.69" height="10.03" fill="#fff22c"/><rect x="680.85" y="500.09" width="2.69" height="32.09" fill="#d5fa2d"/><rect x="680.85" y="489.06" width="2.69" height="10.03" fill="#78f53a"/><rect x="680.85" y="467.00" width="2.69" height="21.06" fill="#36ef5c"/><rect x="680.85" y="455.97" width="2.69" height="10.03" fill="#3de8a6"/><rect x="680.85" y="433.91" width="2.69" height="21.06" fill="#3bcfdf"/><rect x="680.85" y="422.89" width="2.69" height="10.03" fill="#3b7bd8"/><rect x="683.04" y="533.17" width="2.69" height="10.03" fill="#fff22c"/><rect x="683.04" y="433.91" width="2.69" height="98.26" fill="#d5fa2d"/><rect x="683.04" y="400.83" width="2.69" height="32.09" fill="#36ef5c"/><rect x="683.04" y="378.77" width="2.69" height="21.06" fill="#3bcfdf"/><rect x="683.04" y="356.71" width="2.69" height="21.06" fill="#3b7bd8"/><rect x="685.23" y="522.14" width="2.69" height="21.06" fill="#fff22c"/><rect x="685.23" y="500.09" width="2.69" height="21.06" fill="#d5fa2d"/><rect x="685.23" y="478.03" width="2.69" height="21.06" fill="#78f53a"/><rect x="685.23" y="467.00" width="2.69" height="10.03" fill="#36ef5c"/><rect x="685.23" y="455.97" width="2.69" height="10.03" fill="#3bcfdf"/><rect x="687.42" y="533.17" width="2.69" height="10.03" fill="#fff22c"/><rect x="687.42" y="312.60" width="2.69" height="219.57" fill="#d5fa2d"/><rect x="687.42" y="257.46" width="2.69" height="54.14" fill="#78f53a"/><rect x="687.42" y="246.43" width="2.69" height="10.03" fill="#36ef5c"/><rect x="687.42" y="235.40" width="2.69" height="10.03" fill="#3de8a6"/><rect x="687.42" y="213.34" width="2.69" height="21.06" fill="#3b7bd8"/><rect x="689.61" y="533.17" width="2.69" height="10.03" fill="#fff22c"/><rect x="689.61" y="500.09" width="2.69" height="32.09" fill="#d5fa2d"/><rect x="689.61" y="489.06" width="2.69" height="10.03" fill="#78f53a"/><rect x="689.61" y="467.00" width="2.69" height="21.06" fill="#36ef5c"/><rect x="689.61" y="433.91" width="2.69" height="32.09" fill="#3de8a6"/><rect x="689.61" y="400.83" width="2.69" height="32.09" fill="#3bcfdf"/><rect x="689.61" y="378.77" width="2.69" height="21.06" fill="#3b33c5"/><rect x="691.80" y="533.17" width="2.69" height="10.03" fill="#fff22c"/><rect x="691.80" y="500.09" width="2.69" height="32.09" fill="#d5fa2d"/><rect x="691.80" y="478.03" width="2.69" height="21.06" fill="#78f53a"/><rect x="691.80" y="455.97" width="2.69" height="21.06" fill="#36ef5c"/><rect x="691.80" y="444.94" width="2.69" height="10.03" fill="#3de8a6"/><rect x="691.80" y="433.91" width="2.69" height="10.03" fill="#3bcfdf"/><rect x="693.99" y="533.17" width="2.69" height="10.03" fill="#fff22c"/><rect x="693.99" y="511.11" width="2.69" height="21.06" fill="#d5fa2d"/><rect x="693.99" y="500.09" width="2.69" height="10.03" fill="#78f53a"/><rect x="693.99" y="489.06" width="2.69" height="10.03" fill="#3de8a6"/><rect x="696.18" y="522.14" width="2.69" height="21.06" fill="#d5fa2d"/><rect x="696.18" y="511.11" width="2.69" height="10.03" fill="#3de8a6"/><rect x="698.37" y="522.14" width="2.69" height="21.06" fill="#fff22c"/><rect x="698.37" y="500.09" width="2.69" height="21.06" fill="#d5fa2d"/><rect x="698.37" y="478.03" width="2.69" height="21.06" fill="#78f53a"/><rect x="698.37" y="467.00" width="2.69" height="10.03" fill="#36ef5c"/><rect x="698.37" y="444.94" width="2.69" height="21.06" fill="#3de8a6"/><rect x="698.37" y="433.91" width="2.69" height="10.03" fill="#3bcfdf"/><rect x="700.56" y="533.17" width="2.69" height="10.03" fill="#fbbb24"/><rect x="700.56" y="522.14" width="2.69" height="10.03" fill="#d5fa2d"/><rect x="700.56" y="511.11" width="2.69" height="10.03" fill="#36ef5c"/><rect x="702.75" y="533.17" width="2.69" height="10.03" fill="#fff22c"/><rect x="702.75" y="522.14" width="2.69" height="10.03" fill="#d5fa2d"/><rect x="702.75" y="511.11" width="2.69" height="10.03" fill="#78f53a"/><rect x="702.75" y="500.09" width="2.69" height="10.03" fill="#36ef5c"/><rect x="702.75" y="489.06" width="2.69" height="10.03" fill="#3de8a6"/><rect x="702.75" y="478.03" width="2.69" height="10.03" fill="#3b7bd8"/><rect x="704.94" y="533.17" width="2.69" height="10.03" fill="#fff22c"/><rect x="704.94" y="522.14" width="2.69" height="10.03" fill="#d5fa2d"/><rect x="704.94" y="511.11" width="2.69" height="10.03" fill="#78f53a"/><rect x="704.94" y="500.09" width="2.69" height="10.03" fill="#36ef5c"/><rect x="704.94" y="478.03" width="2.69" height="21.06" fill="#3bcfdf"/><rect x="707.12" y="533.17" width="2.69" height="10.03" fill="#fff22c"/><rect x="707.12" y="522.14" width="2.69" height="10.03" fill="#d5fa2d"/><rect x="707.12" y="511.11" width="2.69" height="10.03" fill="#36ef5c"/><rect x="707.12" y="500.09" width="2.69" height="10.03" fill="#3bcfdf"/><rect x="709.31" y="533.17" width="2.69" height="10.03" fill="#fff22c"/><rect x="709.31" y="511.11" width="2.69" height="21.06" fill="#d5fa2d"/><rect x="709.31" y="500.09" width="2.69" height="10.03" fill="#36ef5c"/><rect x="709.31" y="478.03" width="2.69" height="21.06" fill="#3bcfdf"/><rect x="711.50" y="533.17" width="2.69" height="10.03" fill="#fff22c"/><rect x="711.50" y="522.14" width="2.69" height="10.03" fill="#3de8a6"/><rect x="713.69" y="533.17" width="2.69" height="10.03" fill="#fff22c"/><rect x="713.69" y="522.14" width="2.69" height="10.03" fill="#78f53a"/><rect x="713.69" y="511.11" width="2.69" height="10.03" fill="#3bcfdf"/><rect x="715.88" y="533.17" width="2.69" height="10.03" fill="#fff22c"/><rect x="715.88" y="522.14" width="2.69" height="10.03" fill="#d5fa2d"/><rect x="715.88" y="511.11" width="2.69" height="10.03" fill="#78f53a"/><rect x="715.88" y="500.09" width="2.69" height="10.03" fill="#3de8a6"/><rect x="715.88" y="478.03" width="2.69" height="21.06" fill="#3bcfdf"/><rect x="718.07" y="533.17" width="2.69" height="10.03" fill="#78f53a"/><rect x="718.07" y="511.11" width="2.69" height="21.06" fill="#3b33c5"/><rect x="720.26" y="533.17" width="2.69" height="10.03" fill="#fff22c"/><rect x="720.26" y="511.11" width="2.69" height="21.06" fill="#d5fa2d"/><rect x="720.26" y="500.09" width="2.69" height="10.03" fill="#36ef5c"/><rect x="720.26" y="489.06" width="2.69" height="10.03" fill="#3de8a6"/><rect x="720.26" y="467.00" width="2.69" height="21.06" fill="#3bcfdf"/><rect x="722.45" y="533.17" width="2.69" height="10.03" fill="#fff22c"/><rect x="722.45" y="522.14" width="2.69" height="10.03" fill="#78f53a"/><rect x="722.45" y="511.11" width="2.69" height="10.03" fill="#3bcfdf"/><rect x="724.64" y="533.17" width="2.69" height="10.03" fill="#78f53a"/><rect x="724.64" y="522.14" width="2.69" height="10.03" fill="#3bcfdf"/><rect x="726.83" y="533.17" width="2.69" height="10.03" fill="#78f53a"/><rect x="726.83" y="522.14" width="2.69" height="10.03" fill="#3de8a6"/><rect x="729.02" y="533.17" width="2.69" height="10.03" fill="#fbbb24"/><rect x="729.02" y="522.14" width="2.69" height="10.03" fill="#fff22c"/><rect x="729.02" y="500.09" width="2.69" height="21.06" fill="#d5fa2d"/><rect x="729.02" y="489.06" width="2.69" height="10.03" fill="#78f53a"/><rect x="729.02" y="478.03" width="2.69" height="10.03" fill="#36ef5c"/><rect x="729.02" y="455.97" width="2.69" height="21.06" fill="#3de8a6"/><rect x="731.21" y="533.17" width="2.69" height="10.03" fill="#fff22c"/><rect x="731.21" y="522.14" width="2.69" height="10.03" fill="#d5fa2d"/><rect x="731.21" y="511.11" width="2.69" height="10.03" fill="#36ef5c"/><rect x="731.21" y="500.09" width="2.69" height="10.03" fill="#3de8a6"/><rect x="731.21" y="478.03" width="2.69" height="21.06" fill="#3b7bd8"/><rect x="733.40" y="533.17" width="2.69" height="10.03" fill="#fbbb24"/><rect x="733.40" y="522.14" width="2.69" height="10.03" fill="#d5fa2d"/><rect x="733.40" y="511.11" width="2.69" height="10.03" fill="#78f53a"/><rect x="733.40" y="500.09" width="2.69" height="10.03" fill="#3de8a6"/><rect x="735.59" y="533.17" width="2.69" height="10.03" fill="#fff22c"/><rect x="735.59" y="522.14" width="2.69" height="10.03" fill="#d5fa2d"/><rect x="735.59" y="511.11" width="2.69" height="10.03" fill="#78f53a"/><rect x="735.59" y="500.09" width="2.69" height="10.03" fill="#36ef5c"/><rect x="735.59" y="489.06" width="2.69" height="10.03" fill="#3bcfdf"/><rect x="735.59" y="478.03" width="2.69" height="10.03" fill="#3b7bd8"/><rect x="737.78" y="533.17" width="2.69" height="10.03" fill="#d5fa2d"/><rect x="737.78" y="522.14" width="2.69" height="10.03" fill="#36ef5c"/><rect x="737.78" y="511.11" width="2.69" height="10.03" fill="#3b7bd8"/><rect x="739.97" y="533.17" width="2.69" height="10.03" fill="#fbbb24"/><rect x="739.97" y="522.14" width="2.69" height="10.03" fill="#d5fa2d"/><rect x="739.97" y="511.11" width="2.69" height="10.03" fill="#78f53a"/><rect x="739.97" y="500.09" width="2.69" height="10.03" fill="#36ef5c"/><rect x="739.97" y="489.06" width="2.69" height="10.03" fill="#3de8a6"/><rect x="739.97" y="478.03" width="2.69" height="10.03" fill="#3bcfdf"/><rect x="742.16" y="533.17" width="2.69" height="10.03" fill="#fbbb24"/><rect x="742.16" y="522.14" width="2.69" height="10.03" fill="#d5fa2d"/><rect x="742.16" y="511.11" width="2.69" height="10.03" fill="#36ef5c"/><rect x="744.35" y="522.14" width="2.69" height="21.06" fill="#d5fa2d"/><rect x="744.35" y="511.11" width="2.69" height="10.03" fill="#78f53a"/><rect x="744.35" y="500.09" width="2.69" height="10.03" fill="#3de8a6"/><rect x="744.35" y="478.03" width="2.69" height="21.06" fill="#3bcfdf"/><rect x="746.54" y="533.17" width="2.69" height="10.03" fill="#fff22c"/><rect x="746.54" y="511.11" width="2.69" height="21.06" fill="#d5fa2d"/><rect x="746.54" y="500.09" width="2.69" height="10.03" fill="#78f53a"/><rect x="746.54" y="489.06" width="2.69" height="10.03" fill="#36ef5c"/><rect x="746.54" y="478.03" width="2.69" height="10.03" fill="#3de8a6"/><rect x="746.54" y="467.00" width="2.69" height="10.03" fill="#3bcfdf"/><rect x="746.54" y="444.94" width="2.69" height="21.06" fill="#3b7bd8"/><rect x="748.73" y="533.17" width="2.69" height="10.03" fill="#fff22c"/><rect x="748.73" y="500.09" width="2.69" height="32.09" fill="#d5fa2d"/><rect x="748.73" y="455.97" width="2.69" height="43.11" fill="#78f53a"/><rect x="748.73" y="400.83" width="2.69" height="54.14" fill="#36ef5c"/><rect x="748.73" y="356.71" width="2.69" height="43.11" fill="#3de8a6"/><rect x="748.73" y="323.63" width="2.69" height="32.09" fill="#3bcfdf"/><rect x="748.73" y="290.54" width="2.69" height="32.09" fill="#3b7bd8"/><rect x="748.73" y="268.49" width="2.69" height="21.06" fill="#3b33c5"/><rect x="750.91" y="533.17" width="2.69" height="10.03" fill="#fff22c"/><rect x="750.91" y="500.09" width="2.69" height="32.09" fill="#d5fa2d"/><rect x="750.91" y="467.00" width="2.69" height="32.09" fill="#78f53a"/><rect x="750.91" y="400.83" width="2.69" height="65.17" fill="#36ef5c"/><rect x="750.91" y="356.71" width="2.69" height="43.11" fill="#3de8a6"/><rect x="750.91" y="323.63" width="2.69" height="32.09" fill="#3bcfdf"/><rect x="750.91" y="279.51" width="2.69" height="43.11" fill="#3b7bd8"/><rect x="750.91" y="257.46" width="2.69" height="21.06" fill="#3b33c5"/></g>
<text class="n" x="248.3" y="576" font-size="19" fill="#ffffff" text-anchor="middle" transform="translate(248.3 0) scale(0.97 1) translate(-248.3 0)">4/4</text>
<text class="n" x="290.9" y="576" font-size="19" fill="#ffffff" text-anchor="middle" transform="translate(290.9 0) scale(0.97 1) translate(-290.9 0)">4/24</text>
<text class="n" x="466.3" y="576" font-size="19" fill="#ffffff" text-anchor="middle" transform="translate(466.3 0) scale(0.97 1) translate(-466.3 0)">7/13</text>
<text class="n" x="510.2" y="576" font-size="19" fill="#ffffff" text-anchor="middle" transform="translate(510.2 0) scale(0.97 1) translate(-510.2 0)">8/2</text>
<text class="n" x="554.0" y="576" font-size="19" fill="#ffffff" text-anchor="middle" transform="translate(554.0 0) scale(0.97 1) translate(-554.0 0)">8/22</text>
<text class="n" x="597.9" y="576" font-size="19" fill="#ffffff" text-anchor="middle" transform="translate(597.9 0) scale(0.97 1) translate(-597.9 0)">9/11</text>
<text class="n" x="641.8" y="576" font-size="19" fill="#ffffff" text-anchor="middle" transform="translate(641.8 0) scale(0.97 1) translate(-641.8 0)">10/1</text>
<text class="n" x="685.6" y="576" font-size="19" fill="#ffffff" text-anchor="middle" transform="translate(685.6 0) scale(0.97 1) translate(-685.6 0)">10/21</text>
<text class="n" x="751.4" y="576" font-size="19" fill="#ffffff" text-anchor="middle" transform="translate(751.4 0) scale(0.97 1) translate(-751.4 0)">11/20</text>
</svg>
</body></html>
